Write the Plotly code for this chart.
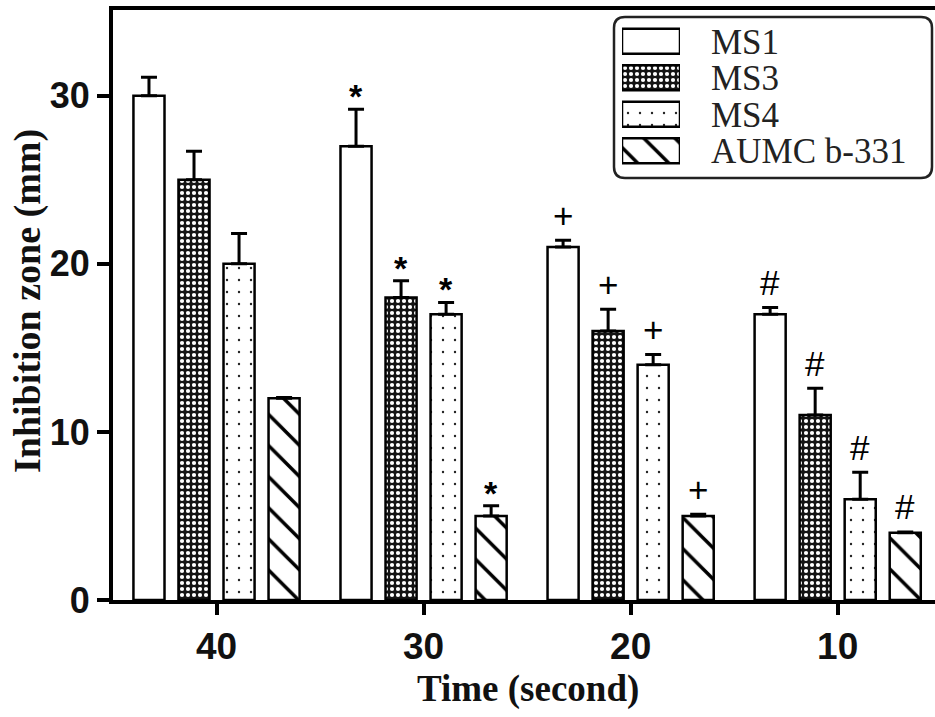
import plotly.graph_objects as go

# ---------------- data ----------------
time_labels = ["40", "30", "20", "10"]
series_names = ["MS1", "MS3", "MS4", "AUMC b-331"]
ms1 = [30, 27, 21, 17]
ms1_err = [1.1, 2.2, 0.4, 0.4]
ms3 = [25, 18, 16, 11]
ms3_err = [1.7, 1.0, 1.3, 1.6]
ms4 = [20, 17, 14, 6]
ms4_err = [1.8, 0.7, 0.6, 1.6]
aumc = [12, 5, 5, 4]
aumc_err = [0.05, 0.6, 0.1, 0.05]
sig_marks = ["", "*", "+", "#"]   # significance symbol per time group
y_ticks = [0, 10, 20, 30]

values = [ms1, ms3, ms4, aumc]
errors = [ms1_err, ms3_err, ms4_err, aumc_err]

# ---------------- styling ----------------
patterns = [
    dict(shape="", bgcolor="white"),
    dict(shape=".", bgcolor="#141414", fgcolor="white", size=6, solidity=0.38, fillmode="replace"),
    dict(shape=".", bgcolor="white", fgcolor="#222222", size=12, solidity=0.03, fillmode="replace"),
    dict(shape="\\", bgcolor="white", fgcolor="black", size=22, solidity=0.16, fillmode="replace"),
]

L, T, W, H = 113, 10, 822, 590
def px2x(p):
    return (p - L) / W
def py2y(p):
    return (T + H - p) / H

BARGAP = 0.13
GROUPGAP = 0.31
slot = (1 - BARGAP) / 4

fig = go.Figure()
for i, name in enumerate(series_names):
    fig.add_trace(go.Bar(
        x=time_labels, y=values[i], name=name,
        marker=dict(color="white", pattern=patterns[i], line=dict(color="black", width=2.5)),
        error_y=dict(type="data", symmetric=False, array=errors[i],
                     arrayminus=[0] * len(errors[i]), thickness=3, width=8, color="black"),
        showlegend=False,
    ))

# significance marks above error bars
annotations = []
for gi, mark in enumerate(sig_marks):
    if not mark:
        continue
    for si in range(4):
        top = values[si][gi] + errors[si][gi]
        annotations.append(dict(
            x=gi + (si - 1.5) * slot, y=top, xref="x", yref="y",
            text=mark, showarrow=False, yanchor="middle",
            yshift=13 if mark == "*" else 25,
            font=dict(family="Liberation Sans, Arial", size=34 if mark == "*" else 35,
                      color="black", weight="bold" if mark == "*" else "normal"),
        ))

# custom legend swatches drawn as bars on an auxiliary axis pair
for i, name in enumerate(series_names):
    fig.add_trace(go.Bar(
        x=[1], y=[name], base=0, orientation="h", width=0.68, offset=-0.34,
        marker=dict(color="white", pattern=patterns[i], line=dict(color="black", width=2.5)),
        xaxis="x2", yaxis="y2", showlegend=False, hoverinfo="skip",
    ))

sw_top, sw_bot = 23, 169
step = (sw_bot - sw_top) / 4
for i, name in enumerate(series_names):
    cy = sw_top + step * (i + 0.5)
    annotations.append(dict(
        x=px2x(709), y=py2y(cy + 1), xref="paper", yref="paper",
        text=name, showarrow=False, xanchor="left", yanchor="middle",
        font=dict(family="Liberation Serif, Times New Roman", size=35, color="#222222"),
    ))

# axis titles
annotations.append(dict(
    x=px2x(27), y=py2y(301), xref="paper", yref="paper", text="<b>Inhibition zone (mm)</b>",
    textangle=-90, showarrow=False, xanchor="center", yanchor="middle",
    font=dict(family="Liberation Serif, Times New Roman", size=38, color="#111111"),
))
annotations.append(dict(
    x=px2x(528), y=py2y(689), xref="paper", yref="paper", text="<b>Time (second)</b>",
    showarrow=False, xanchor="center", yanchor="middle",
    font=dict(family="Liberation Serif, Times New Roman", size=37, color="#111111"),
))

# rounded legend box
x0, x1, y0, y1, r = 614, 932, 17, 178, 11
def P(px, py):
    return f"{px2x(px):.5f},{py2y(py):.5f}"
path = (f"M {P(x0 + r, y0)} L {P(x1 - r, y0)} Q {P(x1, y0)} {P(x1, y0 + r)} "
        f"L {P(x1, y1 - r)} Q {P(x1, y1)} {P(x1 - r, y1)} "
        f"L {P(x0 + r, y1)} Q {P(x0, y1)} {P(x0, y1 - r)} "
        f"L {P(x0, y0 + r)} Q {P(x0, y0)} {P(x0 + r, y0)} Z")

fig.update_layout(
    width=935, height=717,
    margin=dict(l=L, r=935 - L - W, t=T, b=717 - T - H),
    paper_bgcolor="white", plot_bgcolor="white",
    barmode="group", bargap=BARGAP, bargroupgap=GROUPGAP,
    showlegend=False,
    xaxis=dict(
        type="category", categoryorder="array", categoryarray=time_labels,
        range=[-0.5, 3.47], showline=True, linecolor="black", linewidth=3.5, mirror=True,
        ticks="outside", ticklen=11, tickwidth=3.5, tickcolor="black",
        tickfont=dict(family="Liberation Sans, Arial", size=37, color="#111111", weight="bold"),
        showgrid=False, zeroline=False,
    ),
    yaxis=dict(
        range=[0, 35.1], tickvals=y_ticks, showline=True, linecolor="black", linewidth=4,
        ticks="outside", ticklen=12, tickwidth=4, tickcolor="black",
        tickfont=dict(family="Liberation Sans, Arial", size=36, color="#111111", weight="bold"),
        showgrid=False, zeroline=False,
    ),
    xaxis2=dict(domain=[px2x(622), px2x(680)], range=[0, 1], visible=False, anchor="y2",
                fixedrange=True),
    yaxis2=dict(domain=[py2y(sw_bot), py2y(sw_top)], range=[-0.5, 3.5], visible=False,
                anchor="x2", type="category", categoryorder="array",
                categoryarray=series_names[::-1], fixedrange=True),
    annotations=annotations,
    shapes=[dict(type="path", path=path, xref="paper", yref="paper",
                 line=dict(color="#222222", width=2.5), fillcolor="rgba(0,0,0,0)", layer="below")],
)

fig.write_html("out.html", config={"displayModeBar": False},
               post_script="document.body.style.margin='0';document.body.style.overflow='hidden';")
